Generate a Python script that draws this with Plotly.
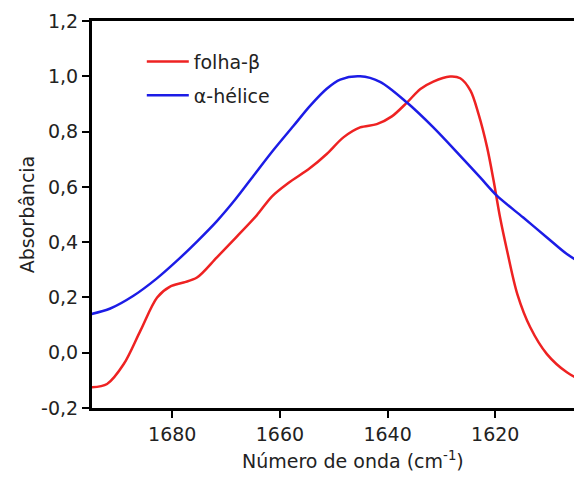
import plotly.graph_objects as go

# folha-β (beta sheet)
beta_x = [1695.0, 1692.1, 1689.0, 1685.9, 1682.8, 1680.4, 1677.9, 1675.4, 1671.7, 1668.0,
          1664.3, 1661.5, 1658.5, 1654.4, 1651.3, 1648.2, 1645.1, 1642.0, 1639.2, 1636.4,
          1633.9, 1631.5, 1628.4, 1626.5, 1624.6, 1623.1, 1621.5, 1620.3, 1619.1, 1617.8,
          1615.9, 1613.5, 1610.4, 1606.7, 1603.8, 1602.4]
beta_y = [-0.125, -0.113, -0.041, 0.080, 0.200, 0.239, 0.254, 0.272, 0.345, 0.420,
          0.497, 0.565, 0.613, 0.668, 0.719, 0.779, 0.815, 0.827, 0.855, 0.905,
          0.954, 0.981, 0.999, 0.993, 0.948, 0.863, 0.742, 0.622, 0.489, 0.369,
          0.212, 0.092, -0.005, -0.071, -0.101, -0.110]

# α-hélice (alpha helix)
alpha_x = [1695.0, 1691.5, 1687.2, 1682.9, 1679.1, 1675.4, 1671.7, 1668.3, 1664.9, 1661.2,
           1657.5, 1654.4, 1651.3, 1648.8, 1645.1, 1641.4, 1636.4, 1631.5, 1626.5, 1622.8,
           1619.7, 1614.8, 1610.4, 1606.7, 1603.8, 1602.4]
alpha_y = [0.140, 0.160, 0.206, 0.268, 0.333, 0.402, 0.476, 0.554, 0.640, 0.733,
           0.820, 0.893, 0.955, 0.988, 1.000, 0.980, 0.905, 0.815, 0.712, 0.634,
           0.568, 0.489, 0.417, 0.357, 0.321, 0.305]

x_ticks = [1680, 1660, 1640, 1620]
y_ticks = [-0.2, 0.0, 0.2, 0.4, 0.6, 0.8, 1.0, 1.2]
y_tick_labels = ["-0,2", "0,0", "0,2", "0,4", "0,6", "0,8", "1,0", "1,2"]

FONT = "DejaVu Sans"

fig = go.Figure()
fig.add_trace(go.Scatter(x=beta_x, y=beta_y, mode="lines", name="folha-β",
                         line=dict(color="#ee2222", width=2.5, shape="spline", smoothing=0.9),
                         legendgroup="a"))
fig.add_trace(go.Scatter(x=alpha_x, y=alpha_y, mode="lines", name="α-hélice",
                         line=dict(color="#1c1ce6", width=2.5, shape="spline", smoothing=0.9),
                         legendgroup="b"))

fig.update_layout(
    width=582, height=484,
    margin=dict(l=84, r=0, t=13, b=84),
    plot_bgcolor="white", paper_bgcolor="white",
    separators=",.",
    font=dict(family=FONT, size=19, color="#222222"),
    showlegend=True,
    legend=dict(x=0.1, y=0.944, xanchor="left", yanchor="top",
                bgcolor="rgba(0,0,0,0)", font=dict(size=19),
                itemwidth=42, tracegroupgap=6),
    xaxis=dict(range=[1694.9, 1602.4], tickvals=x_ticks, ticks="outside",
               ticklen=7, tickwidth=2, tickcolor="black", showline=True,
               linecolor="black", linewidth=3, mirror=True, showgrid=False,
               zeroline=False, tickfont=dict(size=19)),
    yaxis=dict(range=[-0.2, 1.2], tickvals=y_ticks, ticktext=y_tick_labels,
               ticks="outside", ticklen=7, tickwidth=2, tickcolor="black",
               showline=True, linecolor="black", linewidth=3, showgrid=False,
               zeroline=False, tickfont=dict(size=19),
               title=dict(text="Absorbância", font=dict(size=19), standoff=2)),
    annotations=[dict(text="Número de onda (cm<sup>-1</sup>)", xref="paper", yref="paper",
                      x=0.525, y=-0.097, xanchor="center", yanchor="top",
                      showarrow=False, font=dict(size=19))],
)

fig.write_html("out.html")
